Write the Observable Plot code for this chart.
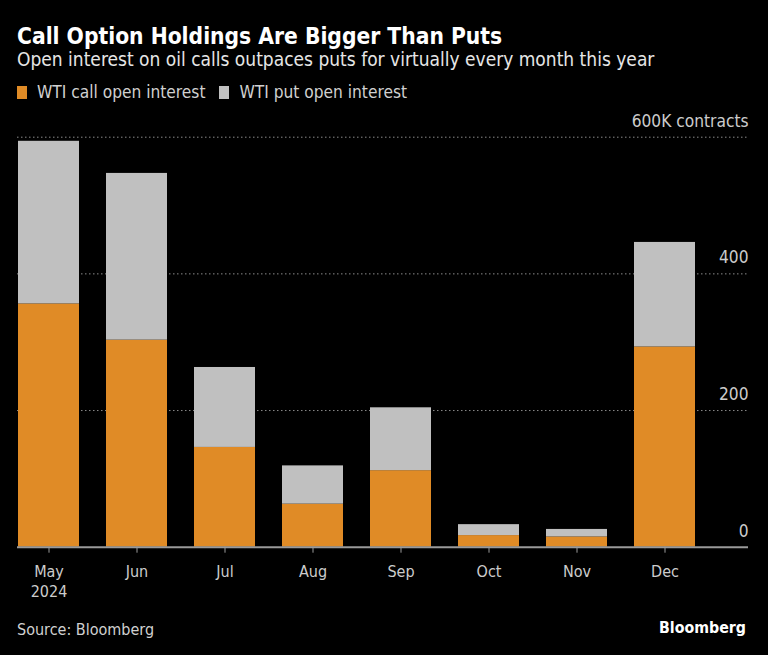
<!DOCTYPE html>
<html><head><meta charset="utf-8">
<script src="https://cdn.jsdelivr.net/npm/d3@7"></script>
<script src="https://cdn.jsdelivr.net/npm/@observablehq/plot@0.6"></script>
<style>
html,body{margin:0;padding:0;background:#000;}
body{width:768px;height:655px;overflow:hidden;font-family:"DejaVu Sans Condensed","DejaVu Sans",sans-serif;color:#fff;position:relative;}
#title{position:absolute;left:17px;top:23px;font-size:22.6px;font-weight:700;color:#fff;white-space:nowrap;}
#subtitle{position:absolute;left:17px;top:48px;font-size:19px;color:#e6e6e6;white-space:nowrap;}
#legend{position:absolute;left:17px;top:82px;font-size:17.2px;color:#d0d0d0;display:flex;align-items:center;white-space:nowrap;}
#legend .sw{display:inline-block;width:10px;height:13px;margin-right:10px;}
#legend .item{display:flex;align-items:center;margin-right:14px;}
#chart{position:absolute;left:0;top:105px;}
#source{position:absolute;left:17px;top:620px;font-size:16px;color:#d0d0d0;}
#brand{position:absolute;right:22px;top:618px;font-size:15.8px;font-weight:700;color:#fff;}
</style>
</head><body>
<div id="title"></div>
<div id="subtitle"></div>
<div id="legend"></div>
<div id="chart"></div>
<div id="source"></div>
<div id="brand"></div>
<script>
const titleText = "Call Option Holdings Are Bigger Than Puts";
const subtitleText = "Open interest on oil calls outpaces puts for virtually every month this year";
const sourceText = "Source: Bloomberg";
const brandText = "Bloomberg";
const months = ["May","Jun","Jul","Aug","Sep","Oct","Nov","Dec"];
const monthLabels = ["May\n2024","Jun","Jul","Aug","Sep","Oct","Nov","Dec"];
const callOI = [356,303,146,63,112,17,15,293];
const putOI = [238,244,117,56,92,16,11,153];
const seriesNames = ["WTI call open interest","WTI put open interest"];
const seriesColors = ["#e08b26","#c0c0c0"];
const yTicks = [0,200,400,600];
const yTickLabels = ["0","200","400","600K contracts"];

document.getElementById("title").textContent = titleText;
document.getElementById("subtitle").textContent = subtitleText;
document.getElementById("source").textContent = sourceText;
document.getElementById("brand").textContent = brandText;
const leg = document.getElementById("legend");
seriesNames.forEach((s,i)=>{
  const it = document.createElement("span"); it.className="item";
  const sw = document.createElement("span"); sw.className="sw"; sw.style.background=seriesColors[i];
  it.appendChild(sw); it.appendChild(document.createTextNode(s)); leg.appendChild(it);
});

const data = months.flatMap((m,i)=>[
  {month:m, series:seriesNames[0], value:callOI[i]},
  {month:m, series:seriesNames[1], value:putOI[i]}
]);

const font = "'DejaVu Sans Condensed', 'DejaVu Sans', sans-serif";
const chart = Plot.plot({
  width:768, height:500,
  marginLeft:17, marginRight:20, marginTop:31.7, marginBottom:58.3,
  style:{background:"transparent", color:"#cccccc", fontFamily:font, fontSize:"16px"},
  x:{domain:months, range:[17,695], paddingInner:0.307, paddingOuter:0, axis:null, label:null},
  y:{domain:[0,600], axis:null, label:null},
  color:{domain:seriesNames, range:seriesColors},
  marks:[
    Plot.ruleY(yTicks.filter(d=>d>0), {stroke:"#8a8a8a", strokeDasharray:"1.5,2.5", strokeWidth:1}),
    Plot.barY(data, Plot.stackY({x:"month", y:"value", fill:"series", order:seriesNames})),
    Plot.ruleY([0], {stroke:"#9a9a9a", strokeWidth:2}),
    Plot.axisX({tickSize:6, tickPadding:10, stroke:"#9a9a9a", fill:"#cccccc", fontSize:16, lineHeight:1.25, label:null,
      tickFormat:(m)=>monthLabels[months.indexOf(m)]}),
    Plot.text(yTicks, {y:d=>d, text:(d,i)=>yTickLabels[i], frameAnchor:"right", textAnchor:"end", dy:-16, fill:"#cccccc", fontSize:17.2})
  ]
});
document.getElementById("chart").appendChild(chart);
</script>
</body></html>
